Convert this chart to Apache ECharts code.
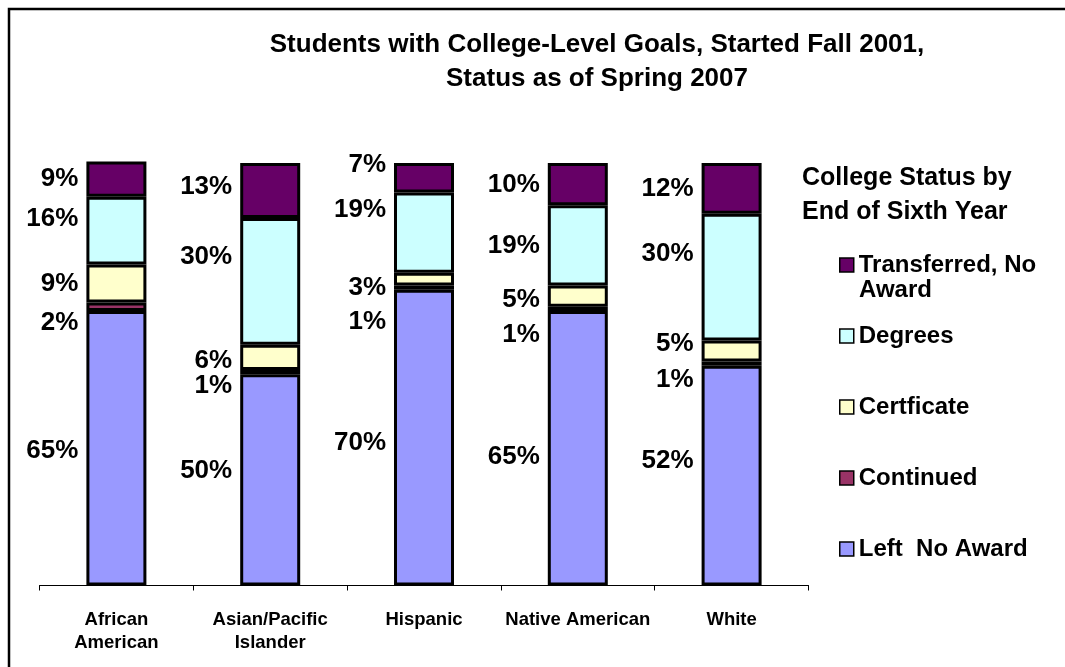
<!DOCTYPE html>
<html><head><meta charset="utf-8">
<script src="https://cdn.jsdelivr.net/npm/echarts@6/dist/echarts.min.js"></script>
<style>html,body{margin:0;padding:0;background:#fff}#c{width:1065px;height:667px}</style>
</head><body><div id="c"></div>
<script>
// ---- data ----
const categories = ['African\nAmerican', 'Asian/Pacific\nIslander', 'Hispanic', 'Native American', 'White'];
const seriesNames = ['Left  No Award', 'Continued', 'Certficate', 'Degrees', 'Transferred, No Award'];
const leftNoAward = [65, 50, 70, 65, 52];
const continued   = [2, 1, 1, 1, 1];
const certificate = [9, 6, 3, 5, 5];
const degrees     = [16, 30, 19, 19, 30];
const transferred = [9, 13, 7, 10, 12];
const chartTitle = 'Students with College-Level Goals, Started Fall 2001,\nStatus as of Spring 2007';
const legendTitle = 'College Status by\nEnd of Sixth Year';

// ---- style ----
const FONT = 'Arial, "Liberation Sans", sans-serif';
const colors = ['#9999FF', '#993366', '#FFFFCC', '#CCFFFF', '#660066'];
// vertical label nudges (Excel placed these labels by hand)
const labelDy = [
  [3, -9, 5, 9, -15],
  [16, 14, 34, 26, 16],
  [0, 3, 9, 4, -7],
  [-12, -24, -23, 0, -23],
  [0, -4, -13, 1, 0]
];
const seriesValues = [leftNoAward, continued, certificate, degrees, transferred];

const chart = echarts.init(document.getElementById('c'));
const series = seriesNames.map((name, si) => ({
  name, type: 'bar', stack: 'total', barWidth: 60, clip: true,
  itemStyle: { color: colors[si], borderColor: '#000', borderWidth: 3 },
  label: {
    show: true, position: 'left', distance: 8,
    formatter: p => p.value + '%',
    fontFamily: FONT, fontWeight: 'bold', fontSize: 26, color: '#000'
  },
  emphasis: { disabled: true },
  data: seriesValues[si].map((v, ci) => ({ value: v, label: { offset: [0, labelDy[si][ci]] } }))
}));

chart.setOption({
  animation: false,
  backgroundColor: '#fff',
  title: {
    text: chartTitle, left: 597, top: 28, textAlign: 'center', padding: 0,
    textStyle: { fontFamily: FONT, fontWeight: 'bold', fontSize: 26, lineHeight: 34, color: '#000' }
  },
  grid: { left: 39.5, right: 256.5, top: 163, bottom: 81.5, containLabel: false },
  xAxis: {
    type: 'category', data: categories,
    axisLine: { lineStyle: { color: '#000', width: 1 } },
    axisTick: { show: true, length: 5, lineStyle: { color: '#000' } },
    axisLabel: { margin: 23, fontFamily: FONT, fontWeight: 'bold', fontSize: 18.5, lineHeight: 23, color: '#000', interval: 0 }
  },
  yAxis: { type: 'value', min: 0, max: 100, show: false, splitLine: { show: false } },
  legend: {
    orient: 'vertical', left: 834, top: 246.5,
    data: seriesNames.slice().reverse(),
    icon: 'rect', itemWidth: 14, itemHeight: 14, itemGap: 44,
    itemStyle: { borderColor: '#000', borderWidth: 1.5 },
    formatter: n => n === 'Transferred, No Award' ? 'Transferred, No' : n,
    textStyle: { fontFamily: FONT, fontWeight: 'bold', fontSize: 24, lineHeight: 27, color: '#000' },
    selectedMode: false
  },
  graphic: [
    { type: 'rect', shape: { x: 9, y: 9, width: 1100, height: 700 }, style: { fill: 'none', stroke: '#000', lineWidth: 2.5 }, silent: true },
    { type: 'text', x: 802, y: 161, style: { text: legendTitle, font: 'bold 25px ' + FONT, lineHeight: 34, fill: '#000' }, silent: true },
    { type: 'text', x: 859, y: 290, style: { text: 'Award', font: 'bold 24px ' + FONT, fill: '#000', verticalAlign: 'middle' }, silent: true }
  ],
  series
});
</script></body></html>
